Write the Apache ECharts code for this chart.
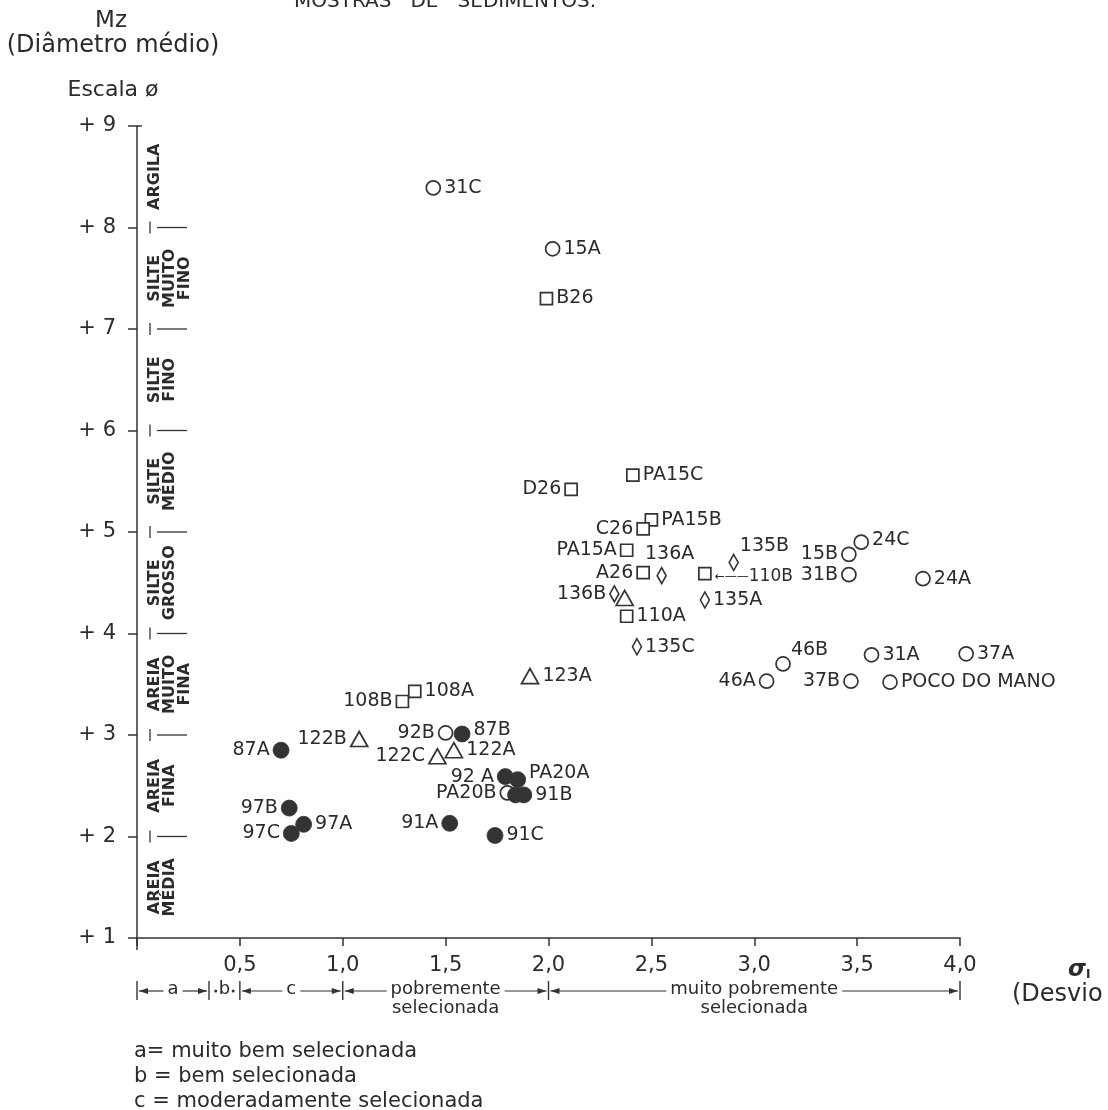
<!DOCTYPE html>
<html><head><meta charset="utf-8">
<script src="https://cdn.jsdelivr.net/npm/echarts@6/dist/echarts.min.js"></script>
<style>html,body{margin:0;padding:0;background:#fff}#c{width:1108px;height:1110px}</style>
</head><body><div id="c"></div>
<script>
// ---- data (x = sorting sigma_I, y = Mz phi) ----
const openCircles = [
  ['31C',1.44,8.39],['15A',2.02,7.79],['15B',3.46,4.78],['24C',3.52,4.90],['31B',3.46,4.58],
  ['24A',3.82,4.54],['46B',3.14,3.70],['46A',3.06,3.53],['37B',3.47,3.53],['31A',3.57,3.79],
  ['37A',4.03,3.80],['POCO DO MANO',3.66,3.52],['92B',1.50,3.02],['PA20B',1.80,2.43]
];
const filledCircles = [
  ['87B',1.58,3.01],['87A',0.70,2.85],['92 A',1.79,2.59],['PA20A',1.85,2.56],['',1.84,2.41],
  ['91B',1.88,2.41],['91A',1.52,2.13],['91C',1.74,2.01],['97B',0.74,2.28],['97A',0.81,2.12],['97C',0.75,2.03]
];
const squares = [
  ['B26',1.99,7.30],['D26',2.11,5.42],['PA15C',2.41,5.56],['PA15B',2.50,5.12],['C26',2.46,5.03],
  ['PA15A',2.38,4.82],['A26',2.46,4.60],['110B',2.76,4.59],['110A',2.38,4.17],['108B',1.29,3.33],['108A',1.35,3.43]
];
const diamonds = [
  ['136A',2.55,4.57],['135B',2.90,4.70],['135A',2.76,4.33],['136B',2.32,4.39],['135C',2.43,3.87]
];
const triangles = [
  ['',2.37,4.35],['123A',1.91,3.58],['122B',1.08,2.96],['122C',1.46,2.79],['122A',1.54,2.85]
];
const xTickLabels = ['', '0,5', '1,0', '1,5', '2,0', '2,5', '3,0', '3,5', '4,0'];
const yTickLabels = ['', '+ 1', '+ 2', '+ 3', '+ 4', '+ 5', '+ 6', '+ 7', '+ 8', '+ 9'];
const grainClassNames = ['ARGILA','SILTE\nMUITO\nFINO','SILTE\nFINO','SILTE\nMÉDIO','SILTE\nGROSSO','AREIA\nMUITO\nFINA','AREIA\nFINA','AREIA\nMÉDIA'];
const grainClassTop = [9, 8, 7, 6, 5, 4, 3, 2];
const grainClassBottom = [8, 7, 6, 5, 4, 3, 2, 1];
const sortBounds = [0, 0.35, 0.5, 1.0, 2.0, 4.0];
const sortNames = ['a', 'b', 'c', 'pobremente\nselecionada', 'muito pobremente\nselecionada'];
const sortLegend = ['a= muito bem selecionada', 'b = bem selecionada', 'c = moderadamente selecionada'];

// ---- label placement (layout only) ----
const labelLeft = ['D26','C26','PA15A','A26','136B','15B','31B','46A','37B','108B','92B','122B','87A','122C','92 A','PA20B','91A','97B','97C'];
const labelTop = ['136A'];
const labelOffset = {'135B':[-2,-16],'46B':[-3,-14],'PA20A':[0,-7],'87B':[0,-4],'136A':[8,0],'110B':[0,3],'24C':[0,-2]};

const FONT = '"DejaVu Sans", "Liberation Sans", sans-serif';
const INK = '#2b2b2b';

function mkData(pts) {
  return pts.map(p => {
    const lab = {};
    if (labelLeft.includes(p[0])) lab.position = 'left';
    else if (labelTop.includes(p[0])) lab.position = 'top';
    else lab.position = 'right';
    if (labelOffset[p[0]]) lab.offset = labelOffset[p[0]];
    if (!p[0]) lab.show = false;
    return { name: p[0], value: [p[1], p[2]], label: lab };
  });
}
function mkSeries(name, pts, symbol, size, filled, z) {
  return {
    type: 'scatter', name, data: mkData(pts), symbol, symbolSize: size, clip: false, z,
    itemStyle: { color: filled ? '#333' : '#fff', borderColor: '#333', borderWidth: filled ? 0.8 : 1.7, opacity: 1 },
    label: {
      show: true, distance: 3, color: INK, fontFamily: FONT, fontSize: 19,
      formatter: p => p.name === '110B' ? '{a|←——}{t|110B}' : p.name,
      rich: { a: { fontSize: 12, color: INK, fontFamily: FONT }, t: { fontSize: 17, color: INK, fontFamily: FONT } }
    },
    emphasis: { disabled: true }
  };
}

const chart = echarts.init(document.getElementById('c'), null, { renderer: 'canvas' });
chart.setOption({
  animation: false,
  backgroundColor: '#fff',
  grid: { left: 137, top: 126, width: 823, height: 812, containLabel: false },
  xAxis: {
    type: 'value', min: 0, max: 4, interval: 0.5,
    axisLine: { show: true, lineStyle: { color: '#333', width: 1.5 } },
    axisTick: { show: true, length: 8, inside: false, lineStyle: { color: '#333', width: 1.5 } },
    axisLabel: { margin: 17, color: INK, fontFamily: FONT, fontSize: 21,
      formatter: v => xTickLabels[Math.round(v / 0.5)] },
    splitLine: { show: false }
  },
  yAxis: {
    type: 'value', min: 1, max: 9, interval: 1,
    axisLine: { show: true, onZero: false, lineStyle: { color: '#333', width: 1.5 } },
    axisTick: { show: true, length: 9, inside: false, lineStyle: { color: '#333', width: 1.5 } },
    axisLabel: { margin: 21, color: INK, fontFamily: FONT, fontSize: 21,
      formatter: v => yTickLabels[Math.round(v)] },
    splitLine: { show: false }
  },
  series: [
    mkSeries('open circles', openCircles, 'circle', 14, false, 3),
    mkSeries('squares', squares, 'rect', 12, false, 3),
    mkSeries('diamonds', diamonds, 'diamond', [9, 16], false, 3),
    mkSeries('triangles', triangles, 'triangle', [17, 15], false, 3),
    mkSeries('filled circles', filledCircles, 'circle', 16, true, 4)
  ]
});

// ---- annotations placed through the axes ----
function px(x, y) { return chart.convertToPixel({ gridIndex: 0 }, [x, y]); }
const g = [];
const lineStyle = { stroke: '#333', lineWidth: 1.5 };
const ax = px(0, 1)[0];

// titles
g.push({ type: 'text', x: 294, y: 12, style: { text: 'MOSTRAS   DE   SEDIMENTOS.', font: '20px ' + FONT, fill: INK, align: 'left', verticalAlign: 'bottom' } });
g.push({ type: 'text', x: 111, y: 21, style: { text: 'Mz', font: '23px ' + FONT, fill: INK, align: 'center', verticalAlign: 'middle' } });
g.push({ type: 'text', x: 113, y: 46, style: { text: '(Diâmetro médio)', font: '24px ' + FONT, fill: INK, align: 'center', verticalAlign: 'middle' } });
g.push({ type: 'text', x: 113, y: 90, style: { text: 'Escala ø', font: '22px ' + FONT, fill: INK, align: 'center', verticalAlign: 'middle' } });
g.push({ type: 'text', x: 1068, y: 970, style: { text: '{s|σ}{i|I}', rich: { s: { font: 'italic bold 23px ' + FONT, fill: INK }, i: { font: 'bold 12px ' + FONT, fill: INK, padding: [10, 0, 0, 0] } }, align: 'left', verticalAlign: 'middle' } });
g.push({ type: 'text', x: 1012, y: 995, style: { text: '(Desvio', font: '24px ' + FONT, fill: INK, align: 'left', verticalAlign: 'middle' } });

// y top hook
const p9 = px(0, 9);
g.push({ type: 'line', shape: { x1: ax, y1: p9[1], x2: ax + 5, y2: p9[1] }, style: lineStyle });
// y axis small extension below x axis
const p1 = px(0, 1);
g.push({ type: 'line', shape: { x1: ax, y1: p1[1], x2: ax, y2: p1[1] + 12 }, style: lineStyle });

// grain-size classes along the y axis
for (let v = 2; v <= 8; v++) {
  const yy = px(0, v)[1];
  g.push({ type: 'line', shape: { x1: ax + 13, y1: yy - 6, x2: ax + 13, y2: yy + 6 }, style: { stroke: '#333', lineWidth: 1.3 } });
  g.push({ type: 'line', shape: { x1: ax + 20, y1: yy, x2: ax + 50, y2: yy }, style: { stroke: '#333', lineWidth: 1.3 } });
}
grainClassNames.forEach((t, i) => {
  const yy = (px(0, grainClassTop[i])[1] + px(0, grainClassBottom[i])[1]) / 2;
  g.push({ type: 'text', x: ax + 10, y: yy, rotation: Math.PI / 2,
    style: { text: t, font: 'bold 16px ' + FONT, fill: INK, align: 'center', verticalAlign: 'top', lineHeight: 15 } });
});

// sorting classes along the x axis
const ctx = document.createElement('canvas').getContext('2d');
const sortFont = '18px ' + FONT;
ctx.font = sortFont;
const rowY = 991;
sortBounds.forEach(b => {
  const xx = px(b, 1)[0];
  g.push({ type: 'line', shape: { x1: xx, y1: rowY - 10, x2: xx, y2: rowY + 9 }, style: { stroke: '#333', lineWidth: 1.4 } });
});
function arrow(xFrom, xTo, y) {
  g.push({ type: 'line', shape: { x1: xFrom, y1: y, x2: xTo, y2: y }, style: { stroke: '#333', lineWidth: 1.2 } });
  const d = xTo > xFrom ? 1 : -1;
  g.push({ type: 'polygon', shape: { points: [[xTo, y], [xTo - d * 9, y - 3], [xTo - d * 9, y + 3]] }, style: { fill: '#333' } });
}
sortNames.forEach((t, i) => {
  const xa = px(sortBounds[i], 1)[0], xb = px(sortBounds[i + 1], 1)[0];
  const cx = (xa + xb) / 2;
  const w = ctx.measureText(t.split('\n')[0]).width;
  g.push({ type: 'text', x: cx, y: rowY - 11, style: { text: t, font: sortFont, fill: INK, align: 'center', verticalAlign: 'top', lineHeight: 19 } });
  const half = w / 2 + 4;
  if (cx - half - xa > 6) {
    arrow(cx - half, xa + 2, rowY);
    arrow(cx + half, xb - 2, rowY);
  } else {
    g.push({ type: 'circle', shape: { cx: cx - half + 1, cy: rowY, r: 1.5 }, style: { fill: '#333' } });
    g.push({ type: 'circle', shape: { cx: cx + half - 1, cy: rowY, r: 1.5 }, style: { fill: '#333' } });
  }
});
sortLegend.forEach((t, i) => {
  g.push({ type: 'text', x: 134, y: 1052 + i * 25, style: { text: t, font: '21px ' + FONT, fill: INK, align: 'left', verticalAlign: 'middle' } });
});

chart.setOption({ graphic: g });
</script>
</body></html>
